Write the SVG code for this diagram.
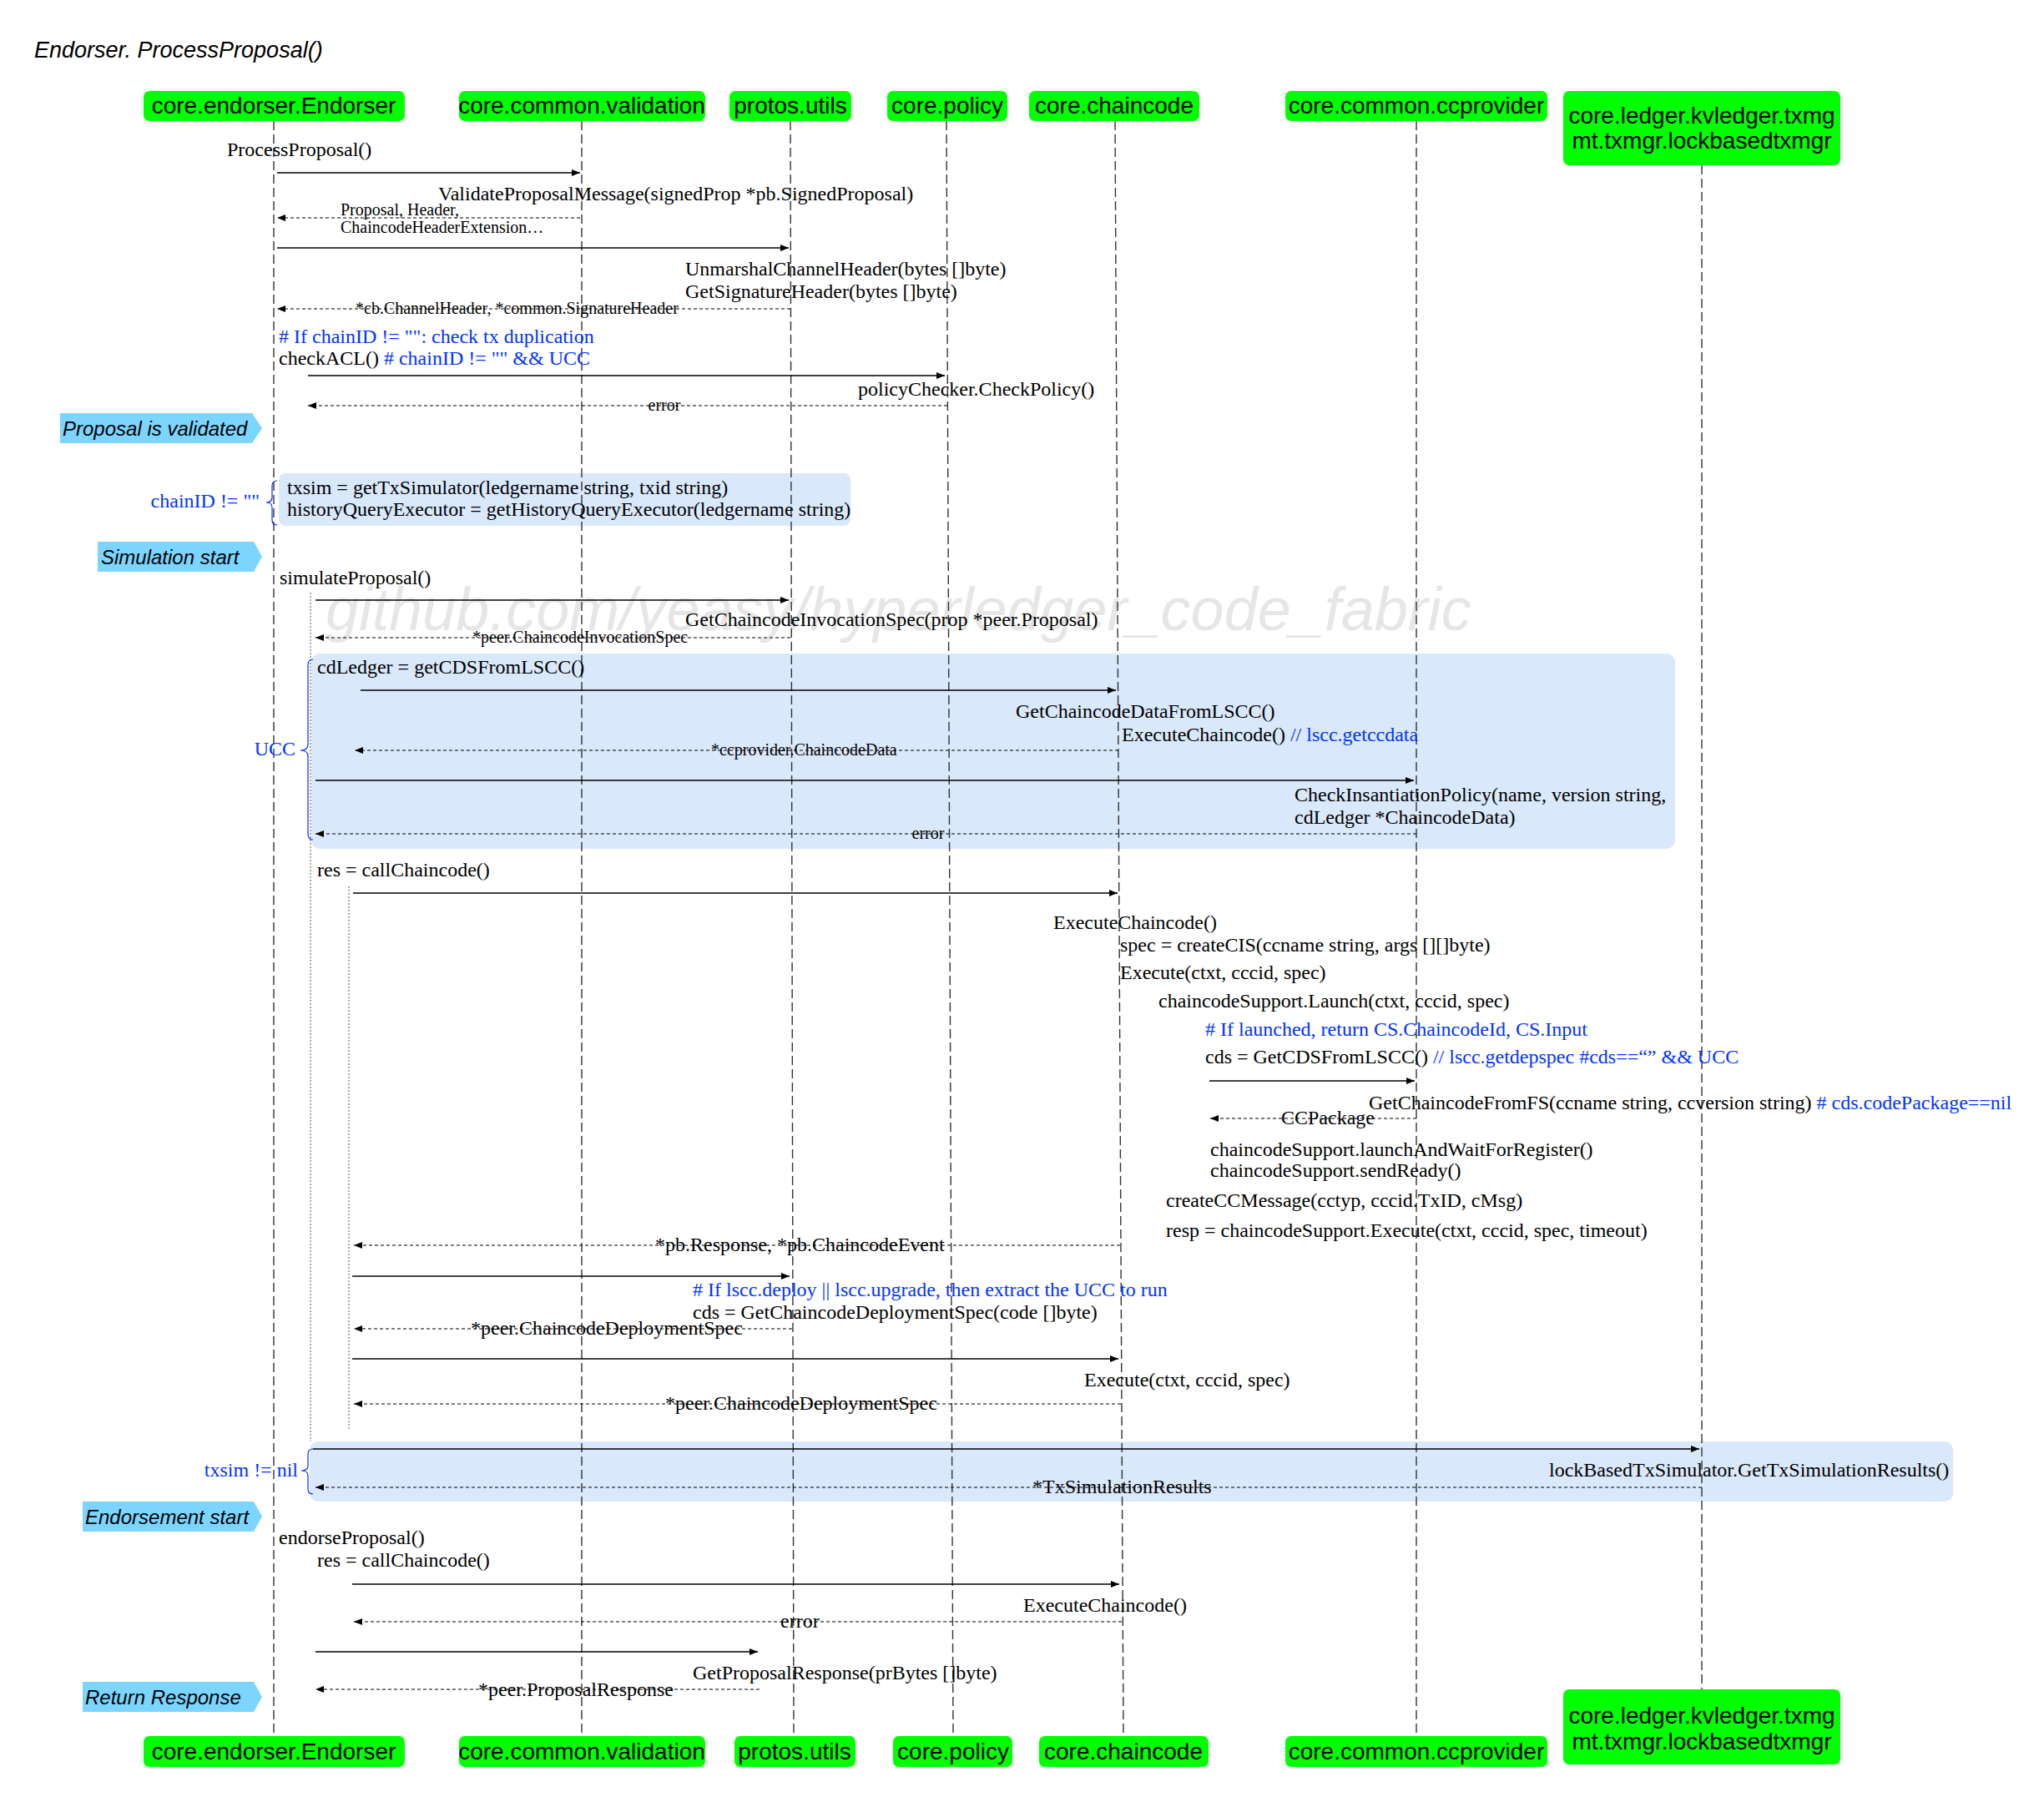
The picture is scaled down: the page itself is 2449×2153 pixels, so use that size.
<svg xmlns="http://www.w3.org/2000/svg" width="2449" height="2153" viewBox="0 0 2449 2153">
<style>
.t{font-family:"Liberation Serif","Times New Roman",serif;font-size:24px;fill:#000}
.s{font-size:20px}
.b{fill:#0033ff}
.p{font-family:"Liberation Sans",Arial,sans-serif;font-size:28px;fill:#000;text-anchor:middle}
.tg{font-family:"Liberation Sans",Arial,sans-serif;font-size:24px;font-style:italic;fill:#000}
.box{fill:#00ff00}
.note{fill:#dae8fc}
.tagshape{fill:#7bd5fe}
.life{stroke:#333;stroke-width:1.4;stroke-dasharray:11,5;fill:none}
.act{stroke:#555;stroke-width:1;stroke-dasharray:2,2;fill:none}
.msg{stroke:#000;stroke-width:1.4;fill:none;marker-end:url(#ah)}
.ret{stroke:#000;stroke-width:1.2;stroke-dasharray:4,3;fill:none;marker-end:url(#ah)}
.brace{stroke:#0033ff;stroke-width:1.2;fill:none}
</style>
<defs>
<marker id="ah" viewBox="0 0 10 8" refX="10" refY="4" markerWidth="10" markerHeight="8" markerUnits="userSpaceOnUse" orient="auto">
<path d="M0,0 L10,4 L0,8 z" fill="#000" stroke="none"/>
</marker>
</defs>
<rect width="2449" height="2153" fill="#fff"/>
<text x="41" y="69" style="font-family:'Liberation Sans',Arial,sans-serif;font-size:27px;font-style:italic">Endorser. ProcessProposal()</text>
<text x="390" y="755" style="font-family:'Liberation Sans',Arial,sans-serif;font-size:72px;font-style:italic;fill:#e6e6e6">github.com/yeasy/hyperledger_code_fabric</text>

<g id="notes">
<rect class="note" x="334" y="567" width="685" height="63" rx="8"/>
<rect class="note" x="373" y="783" width="1634" height="234" rx="10"/>
<rect class="note" x="371" y="1727" width="1969" height="72" rx="10"/>
</g>

<g id="lifelines">
<line class="life" x1="328" y1="145" x2="328" y2="2080"/>
<line class="life" x1="697" y1="145" x2="697" y2="2080"/>
<line class="life" x1="947" y1="145" x2="951" y2="2080"/>
<line class="life" x1="1134" y1="145" x2="1142" y2="2080"/>
<line class="life" x1="1336" y1="145" x2="1346" y2="2080"/>
<line class="life" x1="1697" y1="145" x2="1697" y2="2080"/>
<line class="life" x1="2039" y1="198" x2="2039" y2="2024"/>
<line class="act" x1="372" y1="710" x2="372" y2="1727"/>
<line class="act" x1="418" y1="1062" x2="418" y2="1712"/>
</g>

<g id="p-endorser">
<rect class="box" x="172" y="109" width="313" height="36" rx="7"/>
<text class="p" x="328" y="136">core.endorser.Endorser</text>
<rect class="box" x="172" y="2080" width="313" height="37" rx="7"/>
<text class="p" x="328" y="2108">core.endorser.Endorser</text>
</g>
<g id="p-validation">
<rect class="box" x="550" y="109" width="295" height="36" rx="7"/>
<text class="p" x="697" y="136">core.common.validation</text>
<rect class="box" x="550" y="2080" width="295" height="37" rx="7"/>
<text class="p" x="697" y="2108">core.common.validation</text>
</g>
<g id="p-utils">
<rect class="box" x="874" y="109" width="146" height="36" rx="7"/>
<text class="p" x="947" y="136">protos.utils</text>
<rect class="box" x="880" y="2080" width="145" height="37" rx="7"/>
<text class="p" x="952" y="2108">protos.utils</text>
</g>
<g id="p-policy">
<rect class="box" x="1063" y="109" width="144" height="36" rx="7"/>
<text class="p" x="1135" y="136">core.policy</text>
<rect class="box" x="1070" y="2080" width="143" height="37" rx="7"/>
<text class="p" x="1142" y="2108">core.policy</text>
</g>
<g id="p-chaincode">
<rect class="box" x="1233" y="109" width="204" height="36" rx="7"/>
<text class="p" x="1335" y="136">core.chaincode</text>
<rect class="box" x="1245" y="2080" width="203" height="37" rx="7"/>
<text class="p" x="1346" y="2108">core.chaincode</text>
</g>
<g id="p-ccprovider">
<rect class="box" x="1540" y="109" width="314" height="36" rx="7"/>
<text class="p" x="1697" y="136">core.common.ccprovider</text>
<rect class="box" x="1540" y="2080" width="314" height="37" rx="7"/>
<text class="p" x="1697" y="2108">core.common.ccprovider</text>
</g>
<g id="p-ledger">
<rect class="box" x="1873" y="109" width="332" height="89" rx="7"/>
<text class="p" x="2039" y="148">core.ledger.kvledger.txmg</text>
<text class="p" x="2039" y="178">mt.txmgr.lockbasedtxmgr</text>
<rect class="box" x="1873" y="2024" width="332" height="90" rx="7"/>
<text class="p" x="2039" y="2065">core.ledger.kvledger.txmg</text>
<text class="p" x="2039" y="2096">mt.txmgr.lockbasedtxmgr</text>
</g>

<g id="tags">
<path class="tagshape" d="M72,495 L302,495 L314,513 L302,531 L72,531 z"/>
<text class="tg" x="75" y="522">Proposal is validated</text>
<path class="tagshape" d="M117,649 L304,649 L314,667 L304,685 L117,685 z"/>
<text class="tg" x="121" y="676">Simulation start</text>
<path class="tagshape" d="M99,1799 L304,1799 L314,1817 L304,1835 L99,1835 z"/>
<text class="tg" x="102" y="1826">Endorsement start</text>
<path class="tagshape" d="M99,2015 L304,2015 L314,2033 L304,2051 L99,2051 z"/>
<text class="tg" x="102" y="2042">Return Response</text>
</g>

<g id="braces">
<path class="brace" d="M332,576 Q326,576 326,582 L326,596 Q326,602 319,602 Q326,602 326,608 L326,623 Q326,629 332,629"/>
<text class="t b" x="311" y="608" text-anchor="end">chainID != ""</text>
<path class="brace" d="M375,790 Q369,790 369,797 L369,892 Q369,899 360,899 Q369,899 369,906 L369,999 Q369,1006 375,1006"/>
<text class="t b" x="354" y="905" text-anchor="end">UCC</text>
<path class="brace" d="M375,1736 Q369,1736 369,1742 L369,1756 Q369,1762 361,1762 Q369,1762 369,1768 L369,1784 Q369,1790 375,1790"/>
<text class="t b" x="357" y="1769" text-anchor="end">txsim != nil</text>
</g>

<g id="connectors">
<line class="msg" x1="332" y1="207" x2="695" y2="207"/>
<line class="ret" x1="695" y1="261" x2="332" y2="261"/>
<line class="msg" x1="332" y1="297" x2="945" y2="297"/>
<line class="ret" x1="947" y1="370" x2="332" y2="370"/>
<line class="msg" x1="369" y1="450" x2="1132" y2="450"/>
<line class="ret" x1="1135" y1="486" x2="369" y2="486"/>
<line class="msg" x1="378" y1="719" x2="945" y2="719"/>
<line class="ret" x1="947" y1="764" x2="378" y2="764"/>
<line class="msg" x1="432" y1="827" x2="1337" y2="827"/>
<line class="ret" x1="1340" y1="899" x2="425" y2="899"/>
<line class="msg" x1="378" y1="935" x2="1694" y2="935"/>
<line class="ret" x1="1697" y1="999" x2="378" y2="999"/>
<line class="msg" x1="423" y1="1070" x2="1339" y2="1070"/>
<line class="msg" x1="1449" y1="1295" x2="1695" y2="1295"/>
<line class="ret" x1="1697" y1="1340" x2="1450" y2="1340"/>
<line class="ret" x1="1342" y1="1492" x2="424" y2="1492"/>
<line class="msg" x1="422" y1="1529" x2="946" y2="1529"/>
<line class="ret" x1="949" y1="1592" x2="424" y2="1592"/>
<line class="msg" x1="422" y1="1628" x2="1340" y2="1628"/>
<line class="ret" x1="1343" y1="1682" x2="424" y2="1682"/>
<line class="msg" x1="375" y1="1736" x2="2036" y2="1736"/>
<line class="ret" x1="2039" y1="1782" x2="378" y2="1782"/>
<line class="msg" x1="422" y1="1898" x2="1341" y2="1898"/>
<line class="ret" x1="1344" y1="1943" x2="424" y2="1943"/>
<line class="msg" x1="378" y1="1979" x2="908" y2="1979"/>
<line class="ret" x1="910" y1="2024" x2="378" y2="2024"/>
</g>

<g id="labels">
<text class="t" x="272" y="187">ProcessProposal()</text>
<text class="t" x="525" y="240">ValidateProposalMessage(signedProp *pb.SignedProposal)</text>
<text class="t s" x="408" y="258">Proposal, Header,</text>
<text class="t s" x="408" y="279">ChaincodeHeaderExtension…</text>
<text class="t" x="821" y="330">UnmarshalChannelHeader(bytes []byte)</text>
<text class="t" x="821" y="357">GetSignatureHeader(bytes []byte)</text>
<text class="t s" x="426" y="376">*cb.ChannelHeader, *common.SignatureHeader</text>
<text class="t b" x="334" y="411"># If chainID != "": check tx duplication</text>
<text class="t" x="334" y="437">checkACL()<tspan class="b"> # chainID != "" &amp;&amp; UCC</tspan></text>
<text class="t" x="1028" y="474">policyChecker.CheckPolicy()</text>
<text class="t s" x="796" y="492" text-anchor="middle">error</text>
<text class="t" x="344" y="592">txsim = getTxSimulator(ledgername string, txid string)</text>
<text class="t" x="344" y="618">historyQueryExecutor = getHistoryQueryExecutor(ledgername string)</text>
<text class="t" x="335" y="700">simulateProposal()</text>
<text class="t" x="821" y="750">GetChaincodeInvocationSpec(prop *peer.Proposal)</text>
<text class="t s" x="566" y="770">*peer.ChaincodeInvocationSpec</text>
<text class="t" x="380" y="807">cdLedger = getCDSFromLSCC()</text>
<text class="t" x="1217" y="860">GetChaincodeDataFromLSCC()</text>
<text class="t" x="1344" y="888">ExecuteChaincode()<tspan class="b"> // lscc.getccdata</tspan></text>
<text class="t s" x="852" y="905">*ccprovider.ChaincodeData</text>
<text class="t" x="1551" y="960">CheckInsantiationPolicy(name, version string,</text>
<text class="t" x="1551" y="987">cdLedger *ChaincodeData)</text>
<text class="t s" x="1112" y="1005" text-anchor="middle">error</text>
<text class="t" x="380" y="1050">res = callChaincode()</text>
<text class="t" x="1262" y="1113">ExecuteChaincode()</text>
<text class="t" x="1342" y="1140">spec = createCIS(ccname string, args [][]byte)</text>
<text class="t" x="1342" y="1173">Execute(ctxt, cccid, spec)</text>
<text class="t" x="1388" y="1207">chaincodeSupport.Launch(ctxt, cccid, spec)</text>
<text class="t b" x="1444" y="1241"># If launched, return CS.ChaincodeId, CS.Input</text>
<text class="t" x="1444" y="1274">cds = GetCDSFromLSCC()<tspan class="b"> // lscc.getdepspec #cds==“” &amp;&amp; UCC</tspan></text>
<text class="t" x="1640" y="1329">GetChaincodeFromFS(ccname string, ccversion string)<tspan class="b"> # cds.codePackage==nil</tspan></text>
<text class="t" x="1535" y="1347">CCPackage</text>
<text class="t" x="1450" y="1385">chaincodeSupport.launchAndWaitForRegister()</text>
<text class="t" x="1450" y="1410">chaincodeSupport.sendReady()</text>
<text class="t" x="1397" y="1446">createCCMessage(cctyp, cccid.TxID, cMsg)</text>
<text class="t" x="1397" y="1482">resp = chaincodeSupport.Execute(ctxt, cccid, spec, timeout)</text>
<text class="t" x="785" y="1499">*pb.Response, *pb.ChaincodeEvent</text>
<text class="t b" x="830" y="1553"># If lscc.deploy || lscc.upgrade, then extract the UCC to run</text>
<text class="t" x="830" y="1580">cds = GetChaincodeDeploymentSpec(code []byte)</text>
<text class="t" x="564" y="1599">*peer.ChaincodeDeploymentSpec</text>
<text class="t" x="1299" y="1661">Execute(ctxt, cccid, spec)</text>
<text class="t" x="797" y="1689">*peer.ChaincodeDeploymentSpec</text>
<text class="t" x="1856" y="1769">lockBasedTxSimulator.GetTxSimulationResults()</text>
<text class="t" x="1237" y="1789">*TxSimulationResults</text>
<text class="t" x="334" y="1850">endorseProposal()</text>
<text class="t" x="380" y="1877">res = callChaincode()</text>
<text class="t" x="1226" y="1931">ExecuteChaincode()</text>
<text class="t" x="935" y="1950">error</text>
<text class="t" x="830" y="2012">GetProposalResponse(prBytes []byte)</text>
<text class="t" x="573" y="2032">*peer.ProposalResponse</text>
</g>
</svg>
